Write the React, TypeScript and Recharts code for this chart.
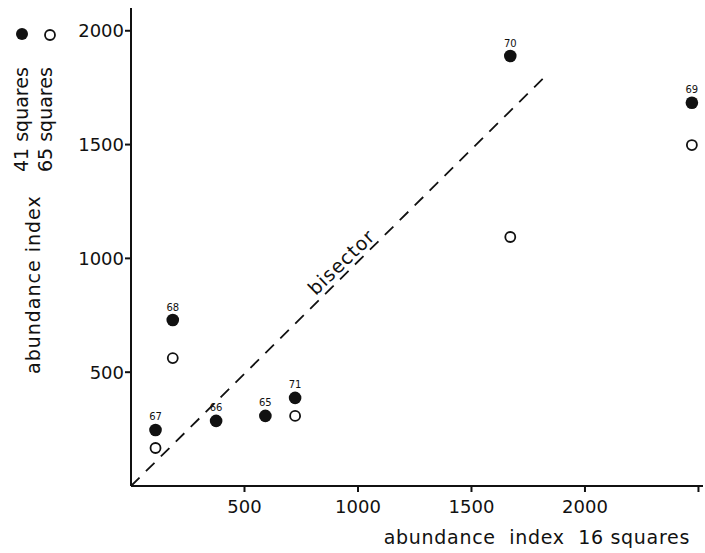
import {
  ScatterChart,
  Scatter,
  XAxis,
  YAxis,
  ReferenceLine,
  LabelList,
  Customized,
} from "recharts";

// abundance index, 41 squares (filled dots)
const squares41 = [
  { year: 67, x: 108, y: 246 },
  { year: 68, x: 184, y: 729 },
  { year: 66, x: 375, y: 286 },
  { year: 65, x: 592, y: 308 },
  { year: 71, x: 723, y: 387 },
  { year: 70, x: 1671, y: 1889 },
  { year: 69, x: 2471, y: 1684 },
];

// abundance index, 65 squares (open dots)
const squares65 = [
  { year: 67, x: 108, y: 167 },
  { year: 68, x: 184, y: 562 },
  { year: 71, x: 723, y: 308 },
  { year: 70, x: 1671, y: 1094 },
  { year: 69, x: 2471, y: 1498 },
];

const xTicks = [500, 1000, 1500, 2000, 2500];
const yTicks = [500, 1000, 1500, 2000];
const bisector = [
  { x: 0, y: 0 },
  { x: 1815, y: 1790 },
];

const FONT = "'DejaVu Sans', sans-serif";
const INK = "#111";

const FilledDot = (p: any) => <circle cx={p.cx} cy={p.cy} r={6.3} fill={INK} />;
const OpenDot = (p: any) => (
  <circle cx={p.cx} cy={p.cy} r={5} fill="#fff" stroke={INK} strokeWidth={1.8} />
);

const Annotations = () => (
  <g fontFamily={FONT} fill={INK}>
    {/* legend */}
    <circle cx={22} cy={34} r={6} fill={INK} />
    <circle cx={50} cy={35} r={5} fill="#fff" stroke={INK} strokeWidth={1.8} />
    <text x={28} y={172} fontSize={19} transform="rotate(-90 28 172)">
      41 squares
    </text>
    <text x={52} y={172} fontSize={19} transform="rotate(-90 52 172)">
      65 squares
    </text>
    <text
      x={40}
      y={374}
      fontSize={19}
      letterSpacing={1}
      transform="rotate(-90 40 374)"
    >
      abundance index
    </text>
    {/* x label */}
    <text
      x={690}
      y={544}
      fontSize={19}
      letterSpacing={0.7}
      textAnchor="end"
      style={{ whiteSpace: "pre" }}
    >
      {"abundance  index  16 squares"}
    </text>
    {/* bisector label */}
    <text
      x={346}
      y={267}
      fontSize={19}
      letterSpacing={1}
      textAnchor="middle"
      transform="rotate(-44 346 267)"
    >
      bisector
    </text>
  </g>
);

export default function App() {
  return (
    <div style={{ position: "absolute", left: 0, top: 0, background: "#fff" }}>
      <ScatterChart
        width={705}
        height={553}
        margin={{ top: 8, right: 2, bottom: 37, left: 70 }}
      >
        <XAxis
          type="number"
          dataKey="x"
          domain={[0, 2520]}
          ticks={xTicks}
          tickFormatter={(v: number) => (v === 2500 ? "" : String(v))}
          height={30}
          stroke={INK}
          strokeWidth={2}
          tickSize={6}
          tickMargin={8}
          tick={{ fontSize: 18, fontFamily: FONT, fill: INK }}
          allowDataOverflow
        />
        <YAxis
          type="number"
          dataKey="y"
          domain={[0, 2100]}
          ticks={yTicks}
          width={61}
          stroke={INK}
          strokeWidth={2}
          tickSize={6}
          tickMargin={1}
          tick={{ fontSize: 18, fontFamily: FONT, fill: INK }}
          allowDataOverflow
        />
        <ReferenceLine
          segment={bisector}
          stroke={INK}
          strokeWidth={1.8}
          strokeDasharray="12 9"
          ifOverflow="visible"
        />
        <Scatter data={squares65} shape={OpenDot} isAnimationActive={false} />
        <Scatter data={squares41} shape={FilledDot} isAnimationActive={false}>
          <LabelList
            dataKey="year"
            position="top"
            offset={5}
            fontSize={10}
            fontFamily={FONT}
            fill={INK}
            stroke="none"
          />
        </Scatter>
        <Customized component={Annotations} />
      </ScatterChart>
    </div>
  );
}
